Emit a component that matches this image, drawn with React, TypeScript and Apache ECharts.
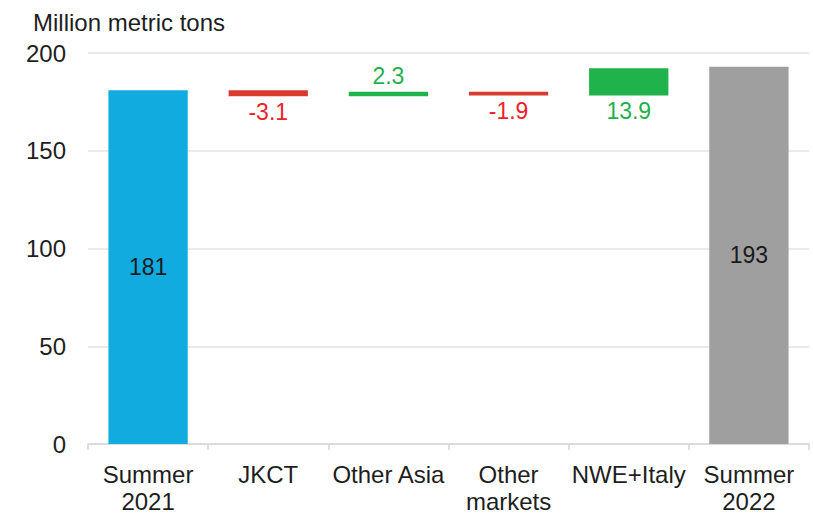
import React, { useEffect, useRef } from "react";
import * as echarts from "echarts";

// Categories along the x axis (two-line labels use "\n")
const categories = ["Summer\n2021", "JKCT", "Other Asia", "Other\nmarkets", "NWE+Italy", "Summer\n2022"];
// Opening and closing totals, million metric tons
const startTotal = 181;
const endTotal = 193;
// Changes between the two summers, by region
const changes = [-3.1, 2.3, -1.9, 13.9];
// Where each change label sits relative to its bar
const changeLabelPos = ["bottom", "top", "bottom", "bottom"];
const yTicks = { min: 0, max: 200, interval: 50 };

const FONT = "'Liberation Sans', Arial, sans-serif";
const BLUE = "#12abe0";
const GREY = "#9f9f9f";
const RED_BAR = "#d93a30";
const GREEN_BAR = "#20b24b";
const RED_TXT = "#ec2228";
const GREEN_TXT = "#1fb04c";
const LABEL_SIZE = 23;

export default function App() {
  const ref = useRef<HTMLDivElement>(null);

  useEffect(() => {
    if (!ref.current) return;
    const chart = echarts.init(ref.current, undefined, { renderer: "svg" });

    // Floating bases for the waterfall steps
    const base: number[] = [0];
    const visible: any[] = [];
    visible.push({
      value: startTotal,
      itemStyle: { color: BLUE },
      label: {
        show: true,
        position: "inside",
        formatter: String(startTotal),
        color: "#1a1a1a",
        fontSize: LABEL_SIZE,
        fontFamily: FONT,
      },
    });
    let running = startTotal;
    changes.forEach((c, i) => {
      const next = running + c;
      base.push(Math.min(running, next));
      const up = c >= 0;
      visible.push({
        value: Math.abs(c),
        itemStyle: { color: up ? GREEN_BAR : RED_BAR },
        label: {
          show: true,
          position: changeLabelPos[i],
          distance: 4,
          formatter: (c > 0 ? "" : "-") + Math.abs(c).toFixed(1),
          color: up ? GREEN_TXT : RED_TXT,
          fontSize: LABEL_SIZE,
          fontFamily: FONT,
        },
      });
      running = next;
    });
    base.push(0);
    visible.push({
      value: endTotal,
      itemStyle: { color: GREY },
      label: {
        show: true,
        position: "inside",
        formatter: String(endTotal),
        color: "#1a1a1a",
        fontSize: LABEL_SIZE,
        fontFamily: FONT,
      },
    });

    chart.setOption({
      animation: false,
      textStyle: { fontFamily: FONT },
      title: {
        text: "Million metric tons",
        left: 28,
        top: 5,
        textStyle: { fontFamily: FONT, fontSize: 24, fontWeight: "normal", color: "#1e1e1e" },
      },
      grid: { left: 88, right: 4, top: 53, bottom: 70, containLabel: false },
      xAxis: {
        type: "category",
        data: categories,
        axisLine: { show: true, lineStyle: { color: "#d6d6d6", width: 1.5 } },
        axisTick: { show: true, length: 6, lineStyle: { color: "#d6d6d6", width: 1.5 } },
        axisLabel: {
          interval: 0,
          margin: 17,
          fontSize: 24,
          lineHeight: 27,
          color: "#1e1e1e",
          fontFamily: FONT,
        },
      },
      yAxis: {
        type: "value",
        min: yTicks.min,
        max: yTicks.max,
        interval: yTicks.interval,
        axisLine: { show: false },
        axisTick: { show: false },
        splitLine: { lineStyle: { color: "#e3e3e3", width: 1.5 } },
        axisLabel: { margin: 22, fontSize: 24, color: "#1e1e1e", fontFamily: FONT },
      },
      series: [
        {
          type: "bar",
          stack: "wf",
          data: base,
          itemStyle: { color: "transparent" },
          silent: true,
          barWidth: "66%",
        },
        {
          type: "bar",
          stack: "wf",
          data: visible,
          barWidth: "66%",
        },
      ],
    });

    return () => chart.dispose();
  }, []);

  return (
    <div
      ref={ref}
      style={{ position: "absolute", left: 0, top: 0, width: 813, height: 515 }}
    />
  );
}
